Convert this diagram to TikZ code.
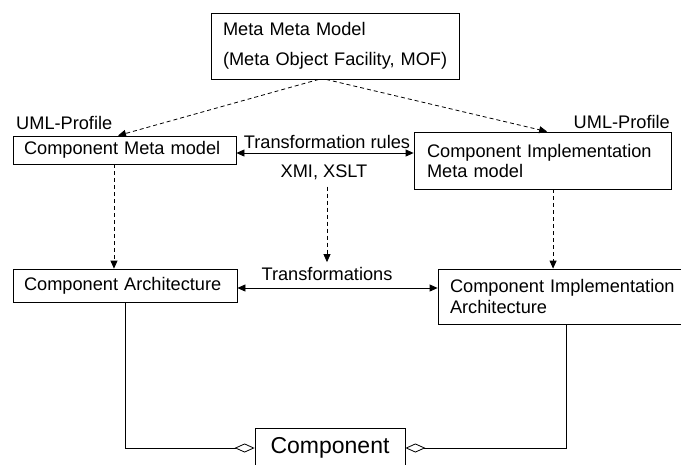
\documentclass[tikz,border=0pt]{standalone}
\usepackage{fontspec}
\setmainfont{Liberation Sans}
\usetikzlibrary{arrows.meta,calc}
\begin{document}
\begin{tikzpicture}[x=1pt,y=-1pt,
  box/.style={draw, line width=0.8pt, rectangle, inner sep=0pt, align=left,
              font=\fontsize{18.2}{22}\selectfont},
  lbl/.style={inner sep=0pt, font=\fontsize{18.2}{22}\selectfont},
  dsh/.style={dash pattern=on 4pt off 3pt, line width=0.8pt,
              -{Triangle[length=8pt,width=7pt]}},
  sol/.style={line width=0.8pt,
              {Triangle[length=8pt,width=7pt]}-{Triangle[length=8pt,width=7pt]}},
  agg/.style={line width=0.8pt, -{Diamond[open,length=20pt,width=9pt]}}]
\useasboundingbox (0,0) rectangle (681,464);
\fill[white] (0,0) rectangle (681,464);

% boxes
\node[box, minimum width=248pt, minimum height=66pt, text width=224pt,
      font=\fontsize{18.2}{30}\selectfont] (meta) at (335,46)
  {\mbox{Meta Meta Model}\\\mbox{(Meta Object Facility, MOF)}};
\node[box, minimum width=223pt, minimum height=28pt, text width=201pt] (cmm) at (124.5,150)
  {\mbox{Component Meta model}};
\node[box, minimum width=257pt, minimum height=57pt, text width=231pt,
      font=\fontsize{18.2}{20}\selectfont] (cimm) at (542.5,160.5)
  {\mbox{Component Implementation}\\\mbox{Meta model}};
\node[box, minimum width=224pt, minimum height=33pt, text width=202pt] (ca) at (125,285.5)
  {\mbox{Component Architecture}};
\node[box, minimum width=247pt, minimum height=55pt, text width=223pt,
      font=\fontsize{18.2}{21}\selectfont] (cia) at (561.5,296.5)
  {\mbox{Component Implementation}\\\mbox{Architecture}};
\node[box, align=center, minimum width=150pt, minimum height=40pt,
      font=\fontsize{23}{26}\selectfont] (comp) at (330,448) {Component};

% labels
\node[lbl, anchor=west] (upl) at (16,123) {UML-Profile};
\node[lbl, anchor=east] (upr) at (670,122) {UML-Profile};
\node[lbl] (trr) at (327,142) {Transformation rules};
\node[lbl] (xmi) at (324,172) {XMI, XSLT};
\node[lbl] (tr) at (327,274) {Transformations};

% dashed arrows from meta
\draw[dsh] ($(meta.south west)!0.435!(meta.south east)$) -- ($(cmm.north west)!0.471!(cmm.north east)$);
\draw[dsh] ($(meta.south west)!0.464!(meta.south east)$) -- ($(cimm.north west)!0.518!(cimm.north east)$);

% dashed verticals
\coordinate (cmmd) at ($(cmm.south west)!0.453!(cmm.south east)$);
\draw[dsh] (cmmd) -- (cmmd |- ca.north);
\coordinate (cimmd) at ($(cimm.south west)!0.541!(cimm.south east)$);
\draw[dsh] (cimmd) -- (cimmd |- cia.north);
\draw[dsh, shorten <=7pt, shorten >=5pt] (xmi.south -| tr.north) -- (tr.north);

% solid double arrows
\draw[sol] ([yshift=-3pt]cmm.east) -- ([yshift=-3pt]cmm.east -| cimm.west);
\draw[sol] ([yshift=-2.5pt]ca.east) -- ([yshift=-2.5pt]ca.east -| cia.west);

% aggregation
\draw[agg] (ca.south) |- (comp.west);
\draw[agg] ($(cia.south west)!0.518!(cia.south east)$) |- (comp.east);
\end{tikzpicture}
\end{document}
